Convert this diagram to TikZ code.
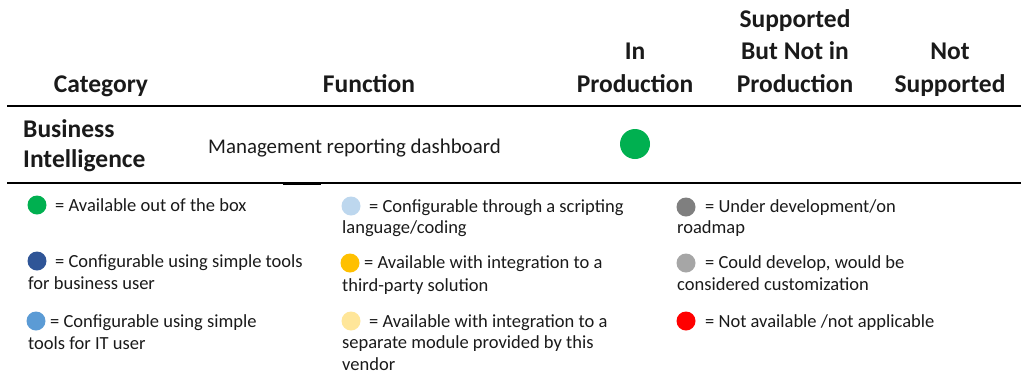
\documentclass[tikz,border=0pt]{standalone}
\usepackage{fontspec}
\setmainfont{Carlito}
\definecolor{cgreen}{HTML}{00B050}
\definecolor{cdblue}{HTML}{2F5597}
\definecolor{clblue}{HTML}{5B9BD5}
\definecolor{cpblue}{HTML}{BDD7EE}
\definecolor{corange}{HTML}{FFC000}
\definecolor{cpyellow}{HTML}{FFE699}
\definecolor{cdgray}{HTML}{7F7F7F}
\definecolor{clgray}{HTML}{A6A6A6}
\definecolor{cred}{HTML}{FF0000}
\definecolor{ctext}{HTML}{1A1A1A}
\tikzset{
  hdr/.style={anchor=base,inner sep=0pt,text=ctext,font=\fontsize{25.5}{30}\selectfont\bfseries},
  cat/.style={anchor=base west,inner sep=0pt,text=ctext,font=\fontsize{25.5}{30}\selectfont\bfseries},
  body/.style={anchor=base west,inner sep=0pt,text=ctext,font=\fontsize{20.9}{25}\selectfont},
  leg/.style={anchor=base west,inner sep=0pt,text=ctext,font=\fontsize{18.5}{22}\selectfont},
  dotbig/.style={circle,inner sep=0pt,minimum size=30pt},
  dotsm/.style={circle,inner sep=0pt,minimum size=19pt},
}
\begin{document}
\begin{tikzpicture}[x=1pt,y=-1pt]
\useasboundingbox (0,0) rectangle (1021,376);
% header
\node[hdr] (hcat) at (101,92) {Category};
\node[hdr] (hfun) at (369,92) {Function};
\node[hdr] (hin1) at (635,59.5) {In};
\node[hdr] (hin2) at (635,92) {Production};
\node[hdr] (hsp1) at (795,27) {Supported};
\node[hdr] (hsp2) at (795,59.5) {But Not in};
\node[hdr] (hsp3) at (795,92) {Production};
\node[hdr] (hns1) at (950,59.5) {Not};
\node[hdr] (hns2) at (950,92) {Supported};
% rules
\coordinate (r1a) at (7,106);
\coordinate (r1b) at (1021,106);
\draw[line width=2pt] (r1a) -- (r1b);
\coordinate (r2a) at (7,183);
\coordinate (r2b) at (683,183);
\coordinate (r2c) at (1021,183);
\coordinate (r2d) at (283,183.5);
\coordinate (r2e) at (321,183.5);
\draw[line width=1.2pt] (r2a) -- (r2b);
\draw[line width=2pt] (r2b) -- (r2c);
\draw[line width=2pt] (r2d) -- (r2e);
% row
\node[cat] (bi1) at (23,137) {Business};
\node[cat] (bi2) at (23,167) {Intelligence};
\node[body] (mrd) at (208,153) {Management reporting dashboard};
\node[dotbig,fill=cgreen] (g1) at (635,144) {};
% legend column 1
\node[dotsm,fill=cgreen] (d11) at (37,205) {};
\node[leg] (t11) at (55,211) {= Available out of the box};
\node[dotsm,fill=cdblue] (d12) at (37,261) {};
\node[leg] (t12a) at (55,267) {= Configurable using simple tools};
\node[leg] (t12b) at (28,289) {for business user};
\node[dotsm,fill=clblue] (d13) at (36,321) {};
\node[leg] (t13a) at (50,327) {= Configurable using simple};
\node[leg] (t13b) at (28,349) {tools for IT user};
% legend column 2
\node[dotsm,fill=cpblue] (d21) at (351,206) {};
\node[leg] (t21a) at (369,212) {= Configurable through a scripting};
\node[leg] (t21b) at (342,233) {language/coding};
\node[dotsm,fill=corange] (d22) at (350,263) {};
\node[leg] (t22a) at (364,268) {= Available with integration to a};
\node[leg] (t22b) at (342,291) {third-party solution};
\node[dotsm,fill=cpyellow] (d23) at (351,321) {};
\node[leg] (t23a) at (369,327) {= Available with integration to a};
\node[leg] (t23b) at (342,348) {separate module provided by this};
\node[leg] (t23c) at (342,370) {vendor};
% legend column 3
\node[dotsm,fill=cdgray] (d31) at (686,207) {};
\node[leg] (t31a) at (705,212) {= Under development/on};
\node[leg] (t31b) at (677,233) {roadmap};
\node[dotsm,fill=clgray] (d32) at (686,263) {};
\node[leg] (t32a) at (705,268) {= Could develop, would be};
\node[leg] (t32b) at (677,290) {considered customization};
\node[dotsm,fill=cred] (d33) at (686,321) {};
\node[leg] (t33a) at (705,327) {= Not available /not applicable};
\end{tikzpicture}
\end{document}
